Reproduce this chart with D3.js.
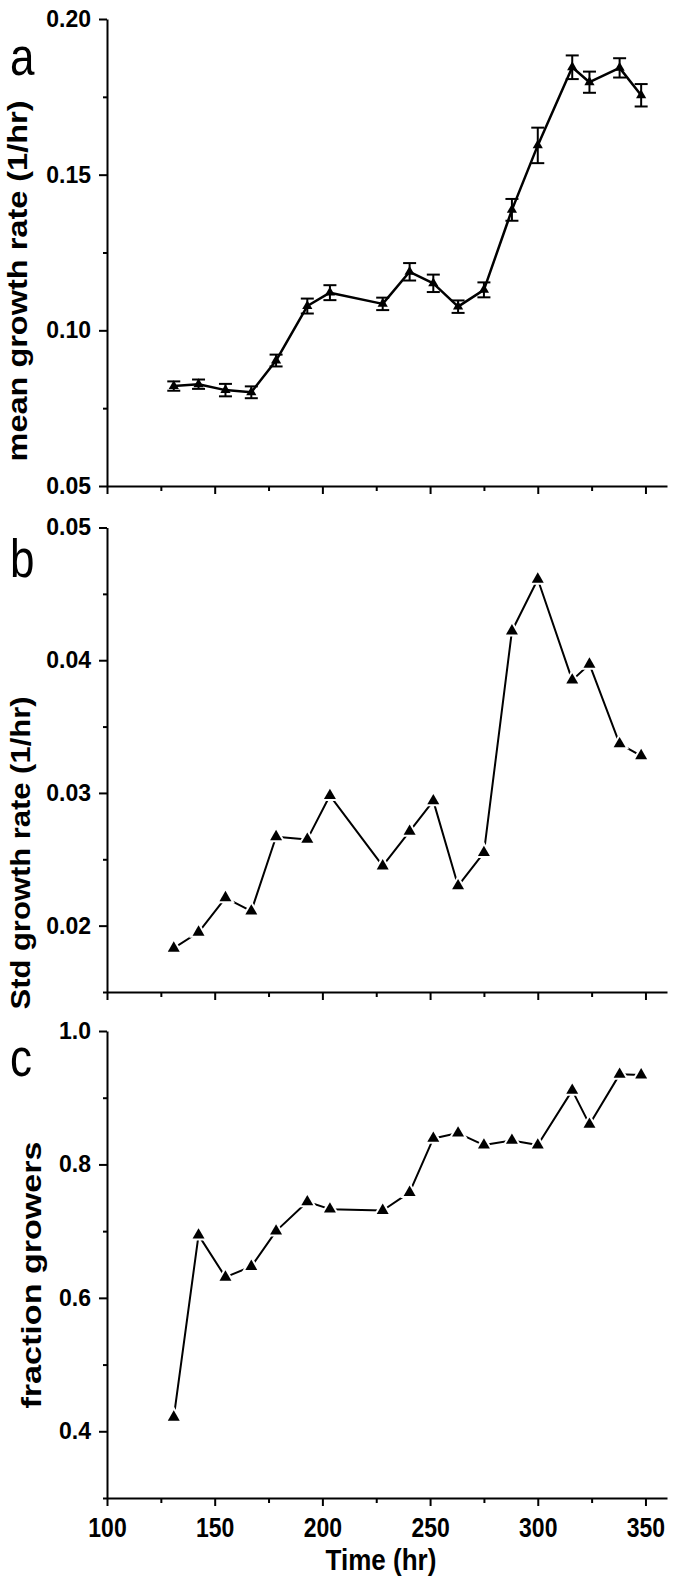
<!DOCTYPE html>
<html>
<head>
<meta charset="utf-8">
<script src="https://cdn.jsdelivr.net/npm/d3@7"></script>
<style>
  body { margin: 0; background: #fff; }
  text { font-family: "Liberation Sans", Arial, sans-serif; fill: #000; }
</style>
</head>
<body>
<svg id="chart" width="677" height="1583"></svg>
<script>
// sampling times (hr), shared by all three panels
const hours = [131, 142.5, 155, 167, 178.5, 193, 203.5, 228, 240.5, 251.5, 263, 275, 288, 300, 316, 324, 338, 348]

// a: mean growth rate with error bars
const meanRate = [0.0821, 0.0827, 0.0808, 0.0801, 0.0903, 0.1078, 0.1121, 0.1085, 0.1188, 0.1151, 0.1076, 0.1130, 0.1387, 0.1594, 0.1845, 0.1797, 0.1843, 0.1755]
const meanErr = [0.0015, 0.0015, 0.0020, 0.0019, 0.0019, 0.0024, 0.0024, 0.0020, 0.0028, 0.0028, 0.0020, 0.0024, 0.0035, 0.0057, 0.0038, 0.0034, 0.0031, 0.0036]

// b: std of growth rate
const stdRate = [0.0183, 0.0195, 0.0221, 0.0211, 0.0267, 0.0265, 0.0298, 0.0245, 0.0271, 0.0294, 0.0230, 0.0255, 0.0422, 0.0461, 0.0385, 0.0397, 0.0337, 0.0328]

// c: fraction of growers
const fracGrowers = [0.421, 0.694, 0.631, 0.647, 0.700, 0.744, 0.733, 0.731, 0.758, 0.839, 0.847, 0.829, 0.836, 0.829, 0.911, 0.860, 0.935, 0.934]

const xTicks = [100, 150, 200, 250, 300, 350]
const xMinor = [125, 175, 225, 275, 325]

const svg = d3.select('#chart')
const x = d3.scaleLinear().domain([100, 360]).range([107, 667])

const panels = [
  { letter: 'a', values: meanRate, err: meanErr, domain: [0.05, 0.20], range: [486, 19],
    ticks: [0.05, 0.10, 0.15, 0.20], minor: [0.075, 0.125, 0.175], fmt: '.2f',
    title: 'mean growth rate (1/hr)', titleX: 27, titleY: 281, titleLen: 361, letterY: 75, lw: 2.5, sym: 45, gap: 0 },
  { letter: 'b', values: stdRate, domain: [0.015, 0.05], range: [992, 527.5],
    ticks: [0.02, 0.03, 0.04, 0.05], minor: [0.015, 0.025, 0.035, 0.045], fmt: '.2f',
    title: 'Std growth rate (1/hr)', titleX: 30, titleY: 853, titleLen: 313, letterY: 577, lw: 2, sym: 62, gap: 4 },
  { letter: 'c', values: fracGrowers, domain: [0.3, 1.0], range: [1498, 1031],
    ticks: [0.4, 0.6, 0.8, 1.0], minor: [0.3, 0.5, 0.7, 0.9], fmt: '.1f',
    title: 'fraction growers', titleX: 41, titleY: 1275, titleLen: 267, letterY: 1076, lw: 2, sym: 62, gap: 4, labels: true }
]

panels.forEach(p => {
  const y = d3.scaleLinear().domain(p.domain).range(p.range)
  const g = svg.append('g')
  const bottom = p.range[0]

  // y axis
  const ya = g.append('g').attr('transform', `translate(${x.range()[0]},0)`)
    .call(d3.axisLeft(y).tickValues(p.ticks).tickSize(8).tickSizeOuter(0).tickFormat(d3.format(p.fmt)))
  ya.selectAll('text').attr('x', -16).attr('font-size', 23).attr('font-weight', 'bold')
  g.append('g').attr('transform', `translate(${x.range()[0]},0)`)
    .call(d3.axisLeft(y).tickValues(p.minor).tickSize(4).tickFormat(''))
    .call(s => s.select('.domain').remove())

  // x axis
  const xa = g.append('g').attr('transform', `translate(0,${bottom})`)
    .call(d3.axisBottom(x).tickValues(xTicks).tickSize(8).tickSizeOuter(0)
      .tickFormat(p.labels ? d3.format('d') : ''))
  xa.selectAll('text')
    .attr('y', 0).attr('dy', 0)
    .attr('transform', 'translate(0,38.5) scale(1,1.2)')
    .attr('font-size', 23).attr('font-weight', 'bold')
  g.append('g').attr('transform', `translate(0,${bottom})`)
    .call(d3.axisBottom(x).tickValues(xMinor).tickSize(5).tickFormat(''))
    .call(s => s.select('.domain').remove())

  g.selectAll('.domain, .tick line').attr('stroke', '#000').attr('stroke-width', 2)

  // series line
  const pts = hours.map((h, i) => [h, p.values[i]])
  g.append('path').datum(pts)
    .attr('fill', 'none').attr('stroke', '#000').attr('stroke-width', p.lw)
    .attr('stroke-linejoin', 'round')
    .attr('d', d3.line().x(d => x(d[0])).y(d => y(d[1])))

  // error bars
  if (p.err) {
    const eb = g.append('g').attr('stroke', '#000').attr('stroke-width', 2)
    hours.forEach((h, i) => {
      const cx = x(h), lo = y(p.values[i] - p.err[i]), hi = y(p.values[i] + p.err[i])
      eb.append('line').attr('x1', cx).attr('x2', cx).attr('y1', lo).attr('y2', hi)
      eb.append('line').attr('x1', cx - 6.5).attr('x2', cx + 6.5).attr('y1', lo).attr('y2', lo)
      eb.append('line').attr('x1', cx - 6.5).attr('x2', cx + 6.5).attr('y1', hi).attr('y2', hi)
    })
  }

  // markers (white halo leaves the small gap in the line, as in the original)
  g.selectAll('.mk').data(pts).join('path')
    .attr('class', 'mk')
    .attr('d', d3.symbol(d3.symbolTriangle, p.sym))
    .attr('transform', d => `translate(${x(d[0])},${y(d[1])})`)
    .attr('fill', '#000')
    .attr('stroke', p.gap ? '#fff' : 'none')
    .attr('stroke-width', p.gap)
    .attr('paint-order', 'stroke')

  // axis title
  g.append('text')
    .attr('transform', `translate(${p.titleX},${p.titleY}) rotate(-90)`)
    .attr('text-anchor', 'middle')
    .attr('font-size', 27).attr('font-weight', 'bold')
    .attr('textLength', p.titleLen).attr('lengthAdjust', 'spacingAndGlyphs')
    .text(p.title)

  // panel letter
  g.append('text')
    .attr('transform', `translate(10,${p.letterY}) scale(1,1.2)`)
    .attr('font-size', 44)
    .text(p.letter)
})

svg.append('text')
  .attr('x', 381).attr('y', 0)
  .attr('transform', 'translate(0,1570) scale(1,1.1)')
  .attr('text-anchor', 'middle')
  .attr('font-size', 26).attr('font-weight', 'bold')
  .text('Time (hr)')
</script>
</body>
</html>
